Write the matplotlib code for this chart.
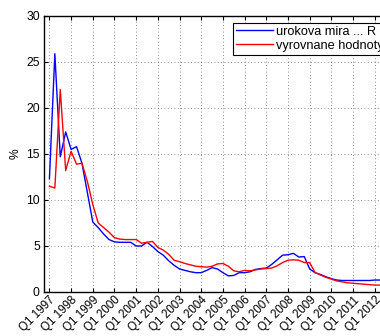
import numpy as np
import matplotlib.pyplot as plt
import matplotlib as mpl

mpl.rcParams['font.family'] = ['Liberation Sans', 'DejaVu Sans']
mpl.rcParams['font.size'] = 8.7
mpl.rcParams['lines.linewidth'] = 1.0

# quarterly interest rate (%) from Q1 1997 and the fitted values
rate = [12.3, 25.9, 14.7, 17.4, 15.5, 15.8, 14.0, 10.8, 7.6, 7.0,
        6.3, 5.7, 5.45, 5.4, 5.4, 5.4, 5.0, 5.0, 5.4, 4.95,
        4.4, 4.0, 3.4, 2.9, 2.5, 2.35, 2.2, 2.1, 2.1, 2.35,
        2.65, 2.5, 2.1, 1.75, 1.8, 2.1, 2.1, 2.2, 2.45, 2.55,
        2.6, 3.0, 3.5, 4.0, 4.05, 4.2, 3.8, 3.85, 2.5, 2.1,
        1.9, 1.65, 1.45, 1.3, 1.25, 1.25, 1.25, 1.25, 1.25, 1.25,
        1.3, 1.3]
fitted = [11.5, 11.3, 22.0, 13.2, 15.3, 13.9, 14.0, 12.0, 9.5, 7.5,
          7.0, 6.5, 5.9, 5.75, 5.7, 5.7, 5.7, 5.3, 5.4, 5.5,
          4.85, 4.55, 4.1, 3.45, 3.3, 3.1, 2.95, 2.8, 2.75, 2.7,
          2.8, 3.05, 3.1, 2.8, 2.3, 2.2, 2.35, 2.3, 2.4, 2.5,
          2.55, 2.6, 2.85, 3.2, 3.45, 3.5, 3.45, 3.2, 3.2, 2.1,
          1.85, 1.6, 1.4, 1.2, 1.1, 1.0, 0.95, 0.9, 0.85, 0.8,
          0.75, 0.75]
years = list(range(1997, 2013))
tick_labels = ['Q1 %d' % y for y in years]

q = np.arange(len(rate))

fig = plt.figure(figsize=(3.8, 3.36), dpi=100)
ax = fig.add_axes([44/380., 44/336., 347/380., 276/336.])

ax.plot(q, rate, color='#0000ff', label='urokova mira ... R')
ax.plot(q, fitted, color='#ff0000', label='vyrovnane hodnoty')

ax.set_xlim(-1, 63)
ax.set_ylim(0, 30)
ax.set_yticks(np.arange(0, 31, 5))
ax.set_xticks(np.arange(0, 4*len(years), 4))
ax.set_xticklabels(tick_labels, rotation=45, ha='right', rotation_mode='anchor',
                   fontsize=8.4)
ax.tick_params(direction='in', top=True, right=True, length=3, width=0.8, pad=3)
ax.tick_params(axis='x', pad=1.5)
ax.grid(True, linestyle=(0, (1, 3)), color='k', linewidth=0.6, alpha=0.6)
for s in ax.spines.values():
    s.set_linewidth(1.0)

ax.set_ylabel('%', labelpad=3)

leg = ax.legend(loc='upper left', bbox_to_anchor=(0.545, 0.976), borderaxespad=0,
                fancybox=False, framealpha=1, edgecolor='k', fontsize=9.2,
                handlelength=2.9, handletextpad=0.2, labelspacing=0.15,
                borderpad=0.25)
leg.get_frame().set_linewidth(0.8)

plt.savefig('out.png')
